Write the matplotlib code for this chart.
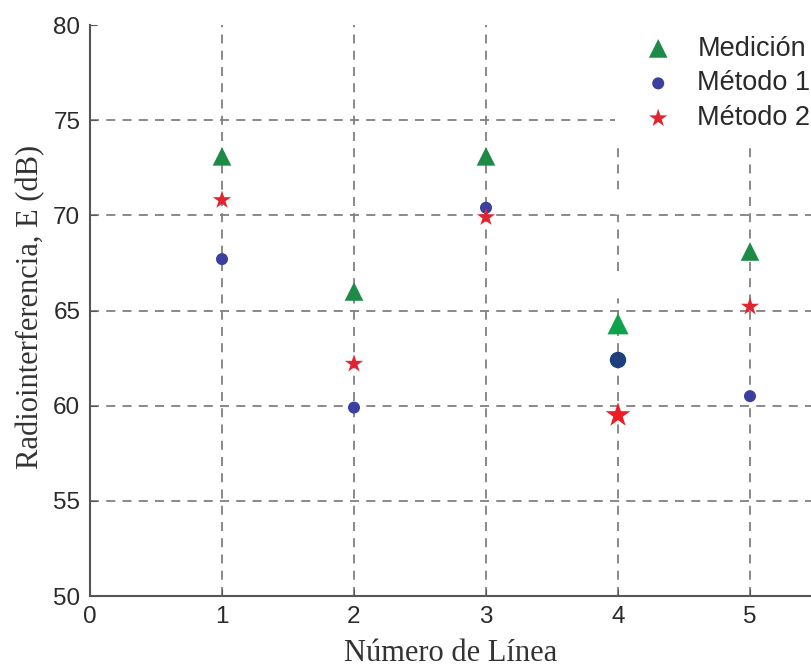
import matplotlib
matplotlib.use("Agg")
import matplotlib.pyplot as plt
import numpy as np

lines = [1, 2, 3, 4, 5]
medicion = [73.1, 66.0, 73.1, 64.3, 68.1]
metodo1 = [67.7, 59.9, 70.4, 62.4, 60.5]
metodo2 = [70.8, 62.2, 69.9, 59.5, 65.2]
erased_x = [4, 4]
erased_y = [70.7, 66.3]
yticks = [50, 55, 60, 65, 70, 75, 80]
xticks = [0, 1, 2, 3, 4, 5]

fig = plt.figure(figsize=(8.11, 6.68), dpi=100)
ax = fig.add_axes([90/811, 72/668, 1 - 90/811, (596-25)/668])

# point-specific styling (line 4 drawn larger / different shade)
tri_c = ['#1e8a48'] * 5; tri_c[3] = '#10a24a'
cir_c = ['#3b3fa0'] * 5; cir_c[3] = '#1e3f7c'
sta_c = ['#e02430'] * 5; sta_c[3] = '#ee1c25'
tri_s = [180] * 5; tri_s[3] = 230
cir_s = [75] * 5; cir_s[3] = 140
sta_s = [190] * 5; sta_s[3] = 350

ax.scatter(lines, medicion, marker='^', s=tri_s, c=tri_c, edgecolors='none', zorder=3)
ax.scatter(lines, metodo1, marker='o', s=cir_s, c=cir_c, edgecolors='none', zorder=3)
ax.scatter(lines, metodo2, marker='*', s=sta_s, c=sta_c, edgecolors='none', zorder=3)
ax.scatter(erased_x, erased_y, marker='o', s=330, c='white', edgecolors='none', zorder=4)

h1 = ax.scatter([], [], marker='^', s=180, c='#1e8a48', edgecolors='none', label='Medición')
h2 = ax.scatter([], [], marker='o', s=75, c='#3b3fa0', edgecolors='none', label='Método 1')
h3 = ax.scatter([], [], marker='*', s=190, c='#e02430', edgecolors='none', label='Método 2')

ax.set_xlim(0, (811-90)/132.0)
ax.set_ylim(50, 80)
ax.set_xticks(xticks)
ax.set_yticks(yticks)
ax.grid(True, linestyle=(0, (5, 4)), color='#808080', linewidth=1.3)
ax.yaxis.get_gridlines()[-1].set_visible(False)
ax.yaxis.get_gridlines()[0].set_visible(False)
ax.xaxis.get_gridlines()[0].set_visible(False)

for s in ['top', 'right']:
    ax.spines[s].set_visible(False)
for s in ['left', 'bottom']:
    ax.spines[s].set_color('#555555')
    ax.spines[s].set_linewidth(1.5)

ax.tick_params(direction='in', length=5, color='#555555', labelsize=17.5,
               labelcolor='#2a2a2a', pad=7)
for lab in ax.get_xticklabels() + ax.get_yticklabels():
    lab.set_family('Liberation Sans')

ax.set_xlabel('Número de Línea', family='Liberation Serif', fontsize=22, color='#333333', labelpad=8)
ax.set_ylabel('Radiointerferencia, E (dB)', family='Liberation Serif', fontsize=22, color='#333333')
ax.yaxis.set_label_coords(-0.062, (668-307-72)/571, transform=ax.transAxes)

leg = ax.legend(handles=[h1, h2, h3], loc='upper right', bbox_to_anchor=(1.0295, 1.0195),
                frameon=True, facecolor='white', edgecolor='none', framealpha=1.0,
                fancybox=False, borderpad=0.6,
                prop={'family': 'Liberation Sans', 'size': 19.5},
                handletextpad=0.45, labelspacing=0.33, borderaxespad=0.2)
leg.set_zorder(5)
for t in leg.get_texts():
    t.set_color('#2a2a2a')

fig.savefig('out.png', dpi=100)
